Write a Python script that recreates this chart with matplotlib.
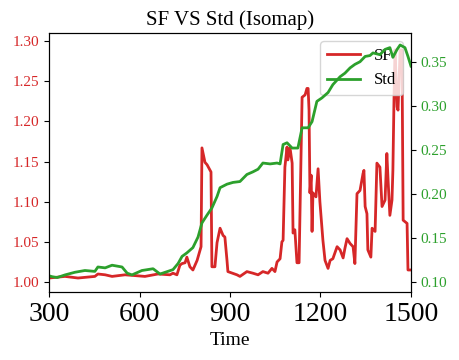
import matplotlib
matplotlib.use("Agg")
import matplotlib.pyplot as plt

plt.rcParams['font.family'] = ['Liberation Serif', 'DejaVu Serif']

sf_time = [300, 353, 396, 452, 462, 486, 509, 552, 618, 661, 701, 711, 724, 734, 741, 751,
           757, 767, 777, 791, 804, 807, 817, 824, 837, 840, 850, 857, 867, 877, 883, 890,
           893, 923, 933, 956, 976, 993, 1009, 1026, 1039, 1049, 1056, 1066, 1072, 1076,
           1082, 1089, 1092, 1099, 1106, 1109, 1115, 1122, 1129, 1135, 1139, 1149, 1155,
           1159, 1162, 1165, 1169, 1172, 1175, 1185, 1192, 1198, 1208, 1215, 1225, 1232,
           1241, 1255, 1265, 1275, 1281, 1288, 1298, 1308, 1314, 1321, 1331, 1341, 1344,
           1348, 1354, 1357, 1367, 1371, 1381, 1387, 1397, 1404, 1414, 1420, 1424, 1430,
           1437, 1440, 1444, 1447, 1454, 1457, 1464, 1470, 1474, 1487, 1490, 1500]
sf_values = [1.005, 1.007, 1.005, 1.007, 1.010, 1.009, 1.007, 1.009, 1.007, 1.010, 1.009,
             1.011, 1.009, 1.021, 1.023, 1.024, 1.031, 1.019, 1.015, 1.027, 1.044, 1.167,
             1.149, 1.146, 1.137, 1.019, 1.019, 1.049, 1.067, 1.058, 1.056, 1.027, 1.013,
             1.009, 1.007, 1.013, 1.011, 1.009, 1.013, 1.011, 1.017, 1.013, 1.025, 1.029,
             1.050, 1.052, 1.143, 1.168, 1.152, 1.167, 1.148, 1.061, 1.065, 1.024, 1.024,
             1.148, 1.230, 1.233, 1.241, 1.241, 1.214, 1.111, 1.133, 1.063, 1.111, 1.106,
             1.141, 1.100, 1.052, 1.027, 1.017, 1.027, 1.029, 1.044, 1.040, 1.030, 1.042,
             1.054, 1.048, 1.044, 1.023, 1.110, 1.114, 1.135, 1.139, 1.094, 1.085, 1.040,
             1.031, 1.067, 1.063, 1.148, 1.143, 1.094, 1.102, 1.160, 1.127, 1.083, 1.102,
             1.139, 1.235, 1.289, 1.218, 1.214, 1.289, 1.289, 1.077, 1.073, 1.015, 1.015]

std_time = [300, 310, 327, 353, 386, 419, 452, 462, 486, 509, 542, 559, 575, 608, 645, 668,
            694, 711, 728, 741, 757, 777, 794, 807, 824, 840, 857, 867, 890, 910, 933, 956,
            976, 993, 1009, 1033, 1056, 1066, 1076, 1089, 1106, 1125, 1139, 1159, 1172,
            1188, 1205, 1225, 1241, 1265, 1281, 1298, 1314, 1331, 1348, 1364, 1374, 1397,
            1414, 1430, 1440, 1454, 1464, 1480, 1490, 1500]
std_values = [0.107, 0.106, 0.105, 0.108, 0.111, 0.113, 0.112, 0.117, 0.116, 0.119, 0.117,
              0.110, 0.108, 0.113, 0.115, 0.109, 0.112, 0.114, 0.121, 0.129, 0.133, 0.139,
              0.151, 0.167, 0.176, 0.184, 0.197, 0.207, 0.211, 0.213, 0.214, 0.222, 0.225,
              0.228, 0.235, 0.234, 0.235, 0.234, 0.256, 0.258, 0.252, 0.252, 0.275, 0.275,
              0.282, 0.305, 0.309, 0.315, 0.324, 0.333, 0.337, 0.343, 0.347, 0.350, 0.356,
              0.357, 0.360, 0.358, 0.364, 0.366, 0.355, 0.364, 0.369, 0.366, 0.356, 0.345]

red = '#d62728'
green = '#2ca02c'

fig = plt.figure(figsize=(4.59, 3.6), dpi=100)
ax = fig.add_axes([0.1068, 0.1889, 0.7886, 0.7194])
ax2 = ax.twinx()

l1, = ax.plot(sf_time, sf_values, color=red, lw=2, label='SF')
l2, = ax2.plot(std_time, std_values, color=green, lw=2, label='Std')

ax.set_xlim(300, 1500)
ax.set_xticks([300, 600, 900, 1200, 1500])
ax.set_ylim(0.9876, 1.31)
ax.set_yticks([1.00, 1.05, 1.10, 1.15, 1.20, 1.25, 1.30])
ax.set_yticklabels(['1.00', '1.05', '1.10', '1.15', '1.20', '1.25', '1.30'])
ax2.set_ylim(0.0886, 0.3826)
ax2.set_yticks([0.10, 0.15, 0.20, 0.25, 0.30, 0.35])
ax2.set_yticklabels(['0.10', '0.15', '0.20', '0.25', '0.30', '0.35'])

ax.tick_params(axis='x', labelsize=20)
ax.tick_params(axis='y', labelsize=11, labelcolor=red)
ax2.tick_params(axis='y', labelsize=11, labelcolor=green)

ax.set_xlabel('Time', fontsize=14)
ax.set_title('SF VS Std (Isomap)', fontsize=15)

ax.legend([l1, l2], ['SF', 'Std'], loc='upper right', fontsize=12)

fig.savefig('out.png', dpi=100)
